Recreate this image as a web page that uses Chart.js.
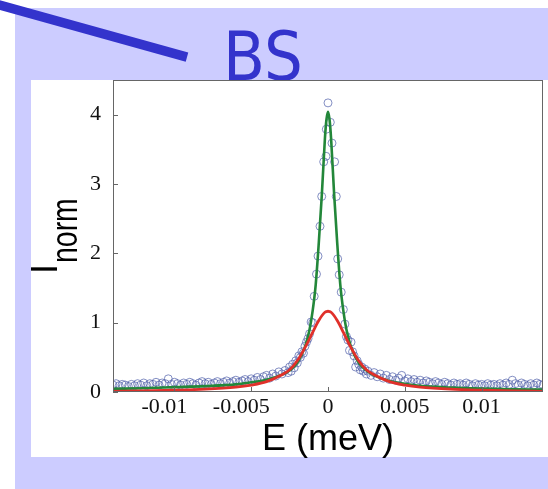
<!DOCTYPE html>
<html>
<head>
<meta charset="utf-8">
<script src="https://cdn.jsdelivr.net/npm/chart.js@4/dist/chart.umd.min.js"></script>
<style>
  html, body { margin: 0; padding: 0; background: #fff; }
  canvas { display: block; }
</style>
</head>
<body>
<canvas id="chart" width="548" height="489"></canvas>
<script>
// tick labels
const xTicks = [-0.01, -0.005, 0, 0.005, 0.01];
const yTicks = [0, 1, 2, 3, 4];

// measured points (open circles), E in meV
const circE = [
  -0.0140, -0.0138, -0.0136, -0.0134, -0.0132, -0.0130, -0.0128, -0.0126, -0.0124, -0.0122,
  -0.0120, -0.0118, -0.0116, -0.0114, -0.0112, -0.0110, -0.0108, -0.0106, -0.0104, -0.0102,
  -0.0100, -0.0098, -0.0096, -0.0094, -0.0092, -0.0090, -0.0088, -0.0086, -0.0084, -0.0082,
  -0.0080, -0.0078, -0.0076, -0.0074, -0.0072, -0.0070, -0.0068, -0.0066, -0.0064, -0.0062,
  -0.0060, -0.0058, -0.0056, -0.0054, -0.0052, -0.0050, -0.0048, -0.0046, -0.0044, -0.0042,
  -0.0040, -0.0038, -0.0036, -0.0034, -0.0032, -0.0030, -0.0028, -0.0026,
  -0.0025, -0.0024, -0.0023, -0.0022, -0.0021, -0.0020, -0.0019, -0.0018, -0.0017, -0.0016,
  -0.0015, -0.0014, -0.0013, -0.0012, -0.0011, -0.0010, -0.0009, -0.00075, -0.00065, -0.00052,
  -0.00041, -0.00028, -0.00013, -0.00011, 0, 0.00015, 0.00026, 0.00043, 0.00054, 0.00063,
  0.00073, 0.00086, 0.0010, 0.0011, 0.0012, 0.0013, 0.0014, 0.0015, 0.0016, 0.0017,
  0.0018, 0.0019, 0.0020, 0.0021, 0.0022, 0.0023, 0.0024, 0.0025,
  0.0026, 0.0028, 0.0030, 0.0032, 0.0034, 0.0036, 0.0038, 0.0040, 0.0042, 0.0044,
  0.0046, 0.0048, 0.0050, 0.0052, 0.0054, 0.0056, 0.0058, 0.0060, 0.0062, 0.0064,
  0.0066, 0.0068, 0.0070, 0.0072, 0.0074, 0.0076, 0.0078, 0.0080, 0.0082, 0.0084,
  0.0086, 0.0088, 0.0090, 0.0092, 0.0094, 0.0096, 0.0098, 0.0100, 0.0102, 0.0104,
  0.0106, 0.0108, 0.0110, 0.0112, 0.0114, 0.0116, 0.0118, 0.0120, 0.0122, 0.0124,
  0.0126, 0.0128, 0.0130, 0.0132, 0.0134, 0.0136, 0.0138, 0.0140
];
const circI = [
  0.10, 0.12, 0.09, 0.11, 0.10, 0.08, 0.11, 0.09, 0.12, 0.10,
  0.13, 0.09, 0.12, 0.11, 0.14, 0.10, 0.13, 0.12, 0.19, 0.11,
  0.14, 0.12, 0.10, 0.13, 0.11, 0.14, 0.12, 0.10, 0.13, 0.15,
  0.12, 0.14, 0.11, 0.13, 0.15, 0.12, 0.14, 0.16, 0.13, 0.15,
  0.17, 0.14, 0.16, 0.18, 0.15, 0.19, 0.17, 0.21, 0.18, 0.22,
  0.24, 0.20, 0.26, 0.23, 0.29, 0.26, 0.31, 0.28,
  0.36, 0.30, 0.40, 0.35, 0.45, 0.42, 0.52, 0.50, 0.58, 0.56,
  0.66, 0.72, 0.77, 0.84, 1.01, 1.00, 1.38, 1.70, 1.96, 2.39,
  2.82, 3.32, 3.40, 3.79, 4.17, 3.89, 3.59, 3.32, 2.82, 1.92,
  1.69, 1.44, 1.19, 0.98, 0.80, 0.75, 0.60, 0.72, 0.58, 0.52,
  0.36, 0.45, 0.40, 0.32, 0.36, 0.30, 0.33, 0.26,
  0.30, 0.24, 0.28, 0.22, 0.26, 0.20, 0.24, 0.18, 0.22, 0.17,
  0.20, 0.24, 0.16, 0.19, 0.15, 0.18, 0.14, 0.17, 0.13, 0.16,
  0.14, 0.12, 0.15, 0.13, 0.11, 0.14, 0.12, 0.10, 0.13, 0.11,
  0.12, 0.10, 0.13, 0.11, 0.09, 0.12, 0.10, 0.11, 0.09, 0.12,
  0.10, 0.11, 0.09, 0.12, 0.10, 0.13, 0.11, 0.17, 0.12, 0.10,
  0.13, 0.11, 0.09, 0.12, 0.10, 0.13, 0.11, 0.10
];

// fitted curves
const fitE = [
  -0.014, -0.012, -0.010, -0.008, -0.006, -0.005, -0.004, -0.003, -0.0025, -0.002,
  -0.0015, -0.0012, -0.001, -0.0008, -0.0006, -0.0004, -0.0002, -0.0001, 0,
  0.0001, 0.0002, 0.0004, 0.0006, 0.0008, 0.001, 0.0012, 0.0015, 0.002, 0.0025,
  0.003, 0.004, 0.005, 0.006, 0.008, 0.010, 0.012, 0.014
];
const greenI = [
  0.045, 0.055, 0.07, 0.085, 0.11, 0.14, 0.175, 0.25, 0.31, 0.42,
  0.65, 0.90, 1.17, 1.55, 2.15, 2.85, 3.66, 3.93, 4.04,
  3.93, 3.66, 2.85, 2.15, 1.55, 1.17, 0.90, 0.65, 0.42, 0.31,
  0.24, 0.16, 0.12, 0.09, 0.065, 0.05, 0.04, 0.035
];
const redI = [
  0.01, 0.015, 0.025, 0.04, 0.07, 0.10, 0.15, 0.25, 0.32, 0.45,
  0.64, 0.77, 0.86, 0.95, 1.03, 1.10, 1.15, 1.16, 1.165,
  1.16, 1.15, 1.10, 1.03, 0.95, 0.86, 0.77, 0.64, 0.45, 0.32,
  0.25, 0.15, 0.10, 0.07, 0.04, 0.025, 0.015, 0.01
];

const BLUE = '#3333cc';
const LAVENDER = '#ccccff';
const tickFont = '22px "Liberation Serif", "Times New Roman", serif';

const toPts = (xs, ys) => xs.map((x, i) => ({ x: x, y: ys[i] }));

const decor = {
  id: 'decor',
  beforeDraw(chart) {
    const ctx = chart.ctx;
    ctx.save();
    ctx.fillStyle = '#fff';
    ctx.fillRect(0, 0, chart.width, chart.height);
    ctx.fillStyle = LAVENDER;
    ctx.fillRect(15, 8, 533, 481);
    ctx.fillStyle = '#fff';
    ctx.fillRect(31, 80, 517, 377);

    // slide decoration: diagonal bar + "BS"
    ctx.strokeStyle = BLUE;
    ctx.lineWidth = 9.5;
    ctx.lineCap = 'butt';
    ctx.beginPath();
    ctx.moveTo(-10, 2.3);
    ctx.lineTo(187, 57.2);
    ctx.stroke();

    ctx.fillStyle = BLUE;
    ctx.font = '68px "DejaVu Sans", sans-serif';
    ctx.textAlign = 'left';
    ctx.textBaseline = 'alphabetic';
    ctx.translate(223, 80);
    ctx.scale(0.9, 1);
    ctx.fillText('BS', 0, 0);
    ctx.restore();
  },
  afterDraw(chart) {
    const ctx = chart.ctx;
    const a = chart.chartArea;
    const xs = chart.scales.x, ys = chart.scales.y;
    ctx.save();

    // box
    ctx.strokeStyle = '#666';
    ctx.lineWidth = 1;
    ctx.strokeRect(a.left + 0.5, a.top + 0.5, a.right - a.left - 1, a.bottom - a.top - 1);

    // inward tick marks
    ctx.beginPath();
    xTicks.forEach(v => {
      const px = Math.round(xs.getPixelForValue(v)) + 0.5;
      ctx.moveTo(px, a.bottom); ctx.lineTo(px, a.bottom - 5);
    });
    yTicks.forEach(v => {
      const py = Math.round(ys.getPixelForValue(v)) + 0.5;
      ctx.moveTo(a.left, py); ctx.lineTo(a.left + 5, py);
    });
    ctx.stroke();

    // x tick labels (minus sign hangs to the left)
    ctx.fillStyle = '#111';
    ctx.font = tickFont;
    ctx.textAlign = 'center';
    ctx.textBaseline = 'top';
    xTicks.forEach(v => {
      const px = xs.getPixelForValue(v) + (v < 0 ? -10 : 0);
      ctx.fillText(String(v), px, a.bottom + 4);
    });

    // axis titles
    ctx.fillStyle = '#000';
    ctx.font = '36px "Liberation Sans", Arial, sans-serif';
    ctx.textBaseline = 'alphabetic';
    ctx.textAlign = 'center';
    ctx.fillText('E (meV)', 328, 450);

    ctx.translate(57, 274);
    ctx.rotate(-Math.PI / 2);
    ctx.textAlign = 'left';
    ctx.fillText('I', 0, 0);
    ctx.translate(11, 20);
    ctx.scale(0.79, 1);
    ctx.fillText('norm', 0, 0);
    ctx.restore();
  }
};

new Chart(document.getElementById('chart'), {
  type: 'scatter',
  data: {
    datasets: [
      {
        label: 'red fit',
        type: 'line',
        data: toPts(fitE, redI),
        borderColor: '#e0302a',
        borderWidth: 2.8,
        pointRadius: 0,
        fill: false,
        cubicInterpolationMode: 'monotone',
        order: 1
      },
      {
        label: 'green fit',
        type: 'line',
        data: toPts(fitE, greenI),
        borderColor: '#23873a',
        borderWidth: 2.6,
        pointRadius: 0,
        fill: false,
        cubicInterpolationMode: 'monotone',
        order: 2
      },
      {
        label: 'data',
        data: toPts(circE, circI),
        pointStyle: 'circle',
        pointRadius: 4,
        borderWidth: 1,
        borderColor: 'rgba(80, 95, 170, 0.7)',
        backgroundColor: 'rgba(0,0,0,0)',
        showLine: false,
        order: 3
      }
    ]
  },
  options: {
    responsive: false,
    animation: false,
    events: [],
    layout: { padding: { top: 80, right: 2, left: 0, bottom: 0 } },
    plugins: { legend: { display: false }, tooltip: { enabled: false } },
    scales: {
      x: {
        type: 'linear',
        min: -0.014,
        max: 0.014,
        afterBuildTicks: s => { s.ticks = xTicks.map(v => ({ value: v })); },
        afterFit: s => { s.height = 97; },
        ticks: { display: false },
        grid: { display: false },
        border: { display: false }
      },
      y: {
        min: 0,
        max: 4.5,
        afterBuildTicks: s => { s.ticks = yTicks.map(v => ({ value: v })); },
        afterFit: s => { s.width = 113; },
        ticks: { font: { family: '"Liberation Serif", "Times New Roman", serif', size: 22 }, color: '#111', padding: 4 },
        grid: { display: false },
        border: { display: false }
      }
    }
  },
  plugins: [decor]
});
</script>
</body>
</html>
